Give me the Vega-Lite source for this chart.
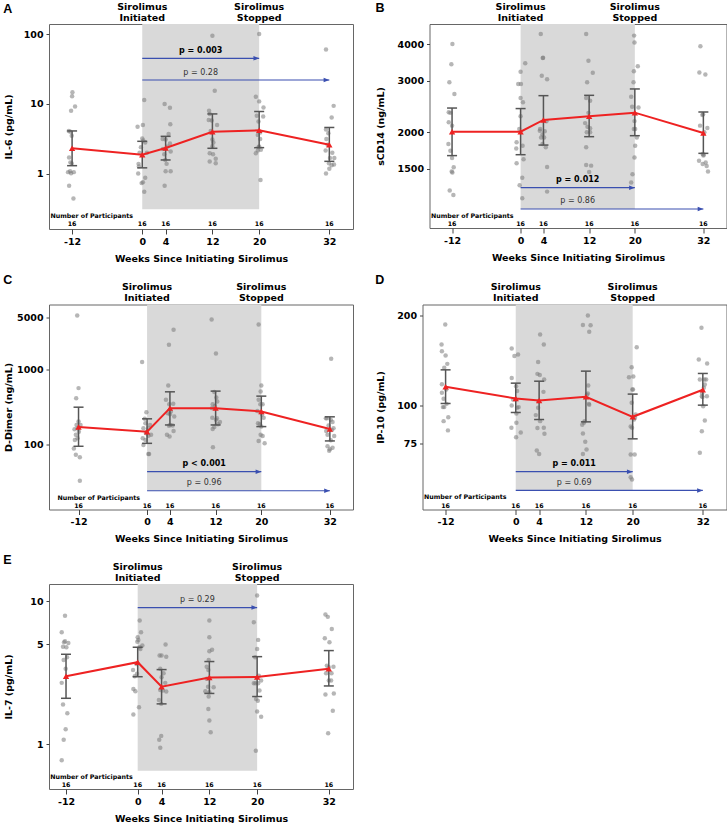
{
"$schema":"https://vega.github.io/schema/vega-lite/v6.json",
"padding":{"left":2,"top":1,"right":0,"bottom":0},
"columns":2,
"align":"none",
"spacing":{"row":9.5,"column":20.5},
"config":{
 "font":"DejaVu Sans",
 "view":{"stroke":"#666","strokeWidth":1},
 "axis":{"grid":false,"domain":false,"labelFont":"DejaVu Sans","labelFontWeight":"bold","labelFontSize":9.5,"labelColor":"#000","titleFont":"DejaVu Sans","titleFontWeight":"bold","titleFontSize":9.5,"titleColor":"#000","tickColor":"#444"},
 "axisX":{"tickSize":5,"labelPadding":2,"titlePadding":7.5,"labelExpr":"'' + datum.value"},
 "axisY":{"tickSize":3,"labelPadding":3,"titlePadding":11.5},
 "title":{"anchor":"start","frame":"bounds","font":"Liberation Sans","fontSize":12.5,"fontWeight":"bold","color":"#000"},
 "text":{"color":"#000"}
},
"datasets":{
 "shade":[{"s":0,"e":20}],
 "hdr":[{"w":0,"t":"Sirolimus\nInitiated"},{"w":20,"t":"Sirolimus\nStopped"}],
 "n16":[{"w":-12,"n":"16"},{"w":0,"n":"16"},{"w":4,"n":"16"},{"w":12,"n":"16"},{"w":20,"n":"16"},{"w":32,"n":"16"}],
 "npl":[{"t":"Number of Participants"}],
 "pA":[{"w":-11.94,"v":14.7},{"w":-12,"v":12.9},{"w":-11.49,"v":9.2},{"w":-12.17,"v":8.0},{"w":-12.57,"v":4.1},{"w":-12.29,"v":4.0},{"w":-12.06,"v":3.5},{"w":-12.51,"v":1.7},{"w":-12.29,"v":1.45},{"w":-12.06,"v":1.4},{"w":-12.69,"v":1.05},{"w":-12.34,"v":1.08},{"w":-11.71,"v":1.05},{"w":-12.17,"v":1.01},{"w":-12.51,"v":0.67},{"w":-11.77,"v":0.44},
  {"w":0.34,"v":11.4},{"w":-0.8,"v":4.7},{"w":0.11,"v":5.0},{"w":0,"v":3.2},{"w":0.17,"v":3.0},{"w":0.51,"v":2.8},{"w":0.8,"v":2.0},{"w":-0.46,"v":2.0},{"w":-0.63,"v":1.38},{"w":-0.57,"v":1.27},{"w":-0.69,"v":1.0},{"w":0.51,"v":0.87},{"w":0.11,"v":0.75},{"w":-0.11,"v":0.73},{"w":0.34,"v":0.55},{"w":-0.23,"v":2.4},
  {"w":3.83,"v":10.0},{"w":4.74,"v":8.8},{"w":4.8,"v":5.1},{"w":3.49,"v":3.15},{"w":4,"v":3.1},{"w":4.74,"v":2.7},{"w":4.34,"v":2.45},{"w":4.86,"v":2.07},{"w":3.54,"v":2.26},{"w":3.94,"v":1.57},{"w":4.17,"v":1.38},{"w":3.77,"v":1.9},{"w":4.86,"v":1.08},{"w":4,"v":1.08},{"w":3.83,"v":0.67},{"w":4.51,"v":3.7},
  {"w":12,"v":95.8},{"w":12.4,"v":15.5},{"w":11.43,"v":8.0},{"w":11.54,"v":7.2},{"w":11.37,"v":5.9},{"w":11.89,"v":5.8},{"w":12.8,"v":5.0},{"w":11.71,"v":4.1},{"w":12,"v":3.1},{"w":12.17,"v":2.8},{"w":12,"v":2.47},{"w":11.54,"v":1.96},{"w":12.11,"v":1.9},{"w":12.57,"v":1.64},{"w":11.54,"v":1.49},{"w":12.57,"v":1.41},
  {"w":20,"v":101},{"w":19.43,"v":12.7},{"w":20,"v":10.9},{"w":20.74,"v":8.9},{"w":19.6,"v":6.8},{"w":20.69,"v":6.6},{"w":19.89,"v":5.6},{"w":19.77,"v":3.6},{"w":20.17,"v":3.9},{"w":20.17,"v":3.15},{"w":19.89,"v":2.4},{"w":20,"v":2.45},{"w":20.29,"v":2.2},{"w":19.77,"v":2.14},{"w":19.43,"v":1.96},{"w":20.23,"v":0.81},
  {"w":31.43,"v":60.7},{"w":32.74,"v":9.4},{"w":32.4,"v":6.4},{"w":31.43,"v":4.3},{"w":31.83,"v":3.8},{"w":31.49,"v":3.15},{"w":31.71,"v":2.6},{"w":31.37,"v":2.14},{"w":32.51,"v":2.0},{"w":32.11,"v":1.68},{"w":32.86,"v":1.68},{"w":31.94,"v":1.41},{"w":32.8,"v":1.35},{"w":32.4,"v":1.32},{"w":32,"v":1.17},{"w":31.43,"v":1.0}],
 "mA":[{"w":-12,"m":2.31,"lo":1.30,"hi":4.1},{"w":0,"m":1.87,"lo":1.21,"hi":2.91},{"w":4,"m":2.33,"lo":1.57,"hi":3.43},{"w":12,"m":4.0,"lo":2.31,"hi":7.2},{"w":20,"m":4.19,"lo":2.36,"hi":7.8},{"w":32,"m":2.6,"lo":1.5,"hi":4.6}],
 "aA":[{"from":0,"to":20,"y":45.3,"label":"p = 0.003","sig":true},{"from":0,"to":32,"y":22.1,"label":"p = 0.28","sig":false}],
 "pB":[{"w":-11.94,"v":4000},{"w":-12.12,"v":3414},{"w":-12.47,"v":2962},{"w":-11.59,"v":2702},{"w":-12.58,"v":2340},{"w":-12.29,"v":2330},{"w":-12.58,"v":2164},{"w":-12,"v":2108},{"w":-12.64,"v":1824},{"w":-12.29,"v":1730},{"w":-12,"v":1636},{"w":-11.71,"v":1520},{"w":-12.06,"v":1470},{"w":-11.94,"v":1460},{"w":-12.41,"v":1266},{"w":-11.77,"v":1222},
  {"w":0.81,"v":3438},{"w":0,"v":3220},{"w":-0.41,"v":2924},{"w":0.06,"v":2924},{"w":0,"v":2620},{"w":0.41,"v":2532},{"w":0,"v":2270},{"w":-0.7,"v":1850},{"w":-0.76,"v":1762},{"w":0.35,"v":1800},{"w":0.52,"v":1618},{"w":-0.7,"v":1568},{"w":0.29,"v":1400},{"w":-0.17,"v":1320},{"w":0.29,"v":1192},{"w":-0.23,"v":2052},
  {"w":3.53,"v":4330},{"w":3.88,"v":3584},{"w":3.94,"v":3590},{"w":3.71,"v":3120},{"w":4.64,"v":3032},{"w":3.36,"v":2026},{"w":3.83,"v":1966},{"w":3.59,"v":1920},{"w":4.12,"v":1922},{"w":4.64,"v":1524},{"w":4.64,"v":1256},{"w":4.52,"v":2180},{"w":4.23,"v":2016},{"w":3.83,"v":1824},{"w":3.42,"v":2052},{"w":4.41,"v":1778},
  {"w":11.48,"v":4330},{"w":11.88,"v":3510},{"w":12.64,"v":3190},{"w":11.65,"v":2962},{"w":11.48,"v":2620},{"w":12.17,"v":2564},{"w":11.88,"v":2330},{"w":11.3,"v":2150},{"w":11.71,"v":2090},{"w":12.17,"v":2066},{"w":11.59,"v":2000},{"w":12.17,"v":2000},{"w":11.48,"v":1778},{"w":11.48,"v":1548},{"w":12.35,"v":1540},{"w":12,"v":1466},
  {"w":19.88,"v":4272},{"w":19.94,"v":4050},{"w":20.52,"v":3360},{"w":19.83,"v":3228},{"w":19.77,"v":2962},{"w":19.36,"v":2646},{"w":19.53,"v":2446},{"w":20.64,"v":2432},{"w":19.94,"v":2184},{"w":19.83,"v":2052},{"w":20.06,"v":2052},{"w":20.35,"v":1922},{"w":20.06,"v":1800},{"w":19.94,"v":1642},{"w":19.59,"v":1440},{"w":19.36,"v":1350},
  {"w":31.48,"v":3930},{"w":31.3,"v":3200},{"w":32.35,"v":3146},{"w":31.83,"v":2290},{"w":31.94,"v":2306},{"w":31.42,"v":2108},{"w":32.7,"v":2070},{"w":31.88,"v":1688},{"w":32.06,"v":1678},{"w":31.24,"v":1600},{"w":32.41,"v":1578},{"w":31.88,"v":1560},{"w":32.58,"v":1536},{"w":32.81,"v":1470},{"w":32,"v":1666},{"w":32.17,"v":2000}],
 "mB":[{"w":-12,"m":2010,"lo":1666,"hi":2420},{"w":0,"m":2010,"lo":1678,"hi":2410},{"w":4,"m":2204,"lo":1810,"hi":2667},{"w":12,"m":2269,"lo":1933,"hi":2674},{"w":20,"m":2334,"lo":1948,"hi":2811},{"w":32,"m":1990,"lo":1696,"hi":2346}],
 "aB":[{"from":0,"to":20,"y":1295,"label":"p = 0.012","sig":true},{"from":0,"to":32,"y":1096,"label":"p = 0.86","sig":false}],
 "pC":[{"w":-12.23,"v":5290},{"w":-12,"v":568},{"w":-12.41,"v":417},{"w":-12,"v":203},{"w":-11.65,"v":183},{"w":-12.35,"v":183},{"w":-12.7,"v":160},{"w":-12.47,"v":135},{"w":-12.64,"v":115},{"w":-12.17,"v":122},{"w":-11.94,"v":149},{"w":-12.82,"v":89},{"w":-12.47,"v":73},{"w":-11.77,"v":68},{"w":-11.77,"v":33},{"w":-12.17,"v":165},
  {"w":-0.87,"v":1270},{"w":-0.12,"v":271},{"w":-0.41,"v":221},{"w":-0.29,"v":193},{"w":0.23,"v":165},{"w":-0.64,"v":165},{"w":-0.06,"v":149},{"w":0.7,"v":135},{"w":0.23,"v":131},{"w":-0.76,"v":122},{"w":-0.64,"v":99},{"w":0.23,"v":75},{"w":0.35,"v":75},{"w":-0.29,"v":115},{"w":0.52,"v":183},{"w":-0.17,"v":142},
  {"w":4.64,"v":3430},{"w":3.83,"v":2160},{"w":3.71,"v":617},{"w":3.3,"v":397},{"w":3.88,"v":347},{"w":4.58,"v":351},{"w":3.59,"v":263},{"w":4,"v":255},{"w":4.76,"v":237},{"w":4.06,"v":183},{"w":3.83,"v":178},{"w":4.47,"v":180},{"w":3.48,"v":135},{"w":3.94,"v":128},{"w":4.64,"v":152},{"w":4.17,"v":277},
  {"w":11.3,"v":4670},{"w":12.06,"v":1650},{"w":11.77,"v":505},{"w":12.12,"v":425},{"w":12.29,"v":377},{"w":11.48,"v":347},{"w":11.36,"v":307},{"w":11.88,"v":327},{"w":11.42,"v":229},{"w":12.23,"v":225},{"w":12.06,"v":214},{"w":12.76,"v":200},{"w":12.41,"v":187},{"w":11.48,"v":162},{"w":11.77,"v":172},{"w":11.53,"v":92},
  {"w":19.53,"v":4010},{"w":20,"v":617},{"w":19.88,"v":513},{"w":19.53,"v":397},{"w":19.83,"v":347},{"w":20.23,"v":347},{"w":19.3,"v":282},{"w":20.12,"v":252},{"w":20.41,"v":229},{"w":19.42,"v":193},{"w":19.71,"v":187},{"w":20,"v":174},{"w":19.88,"v":135},{"w":20.23,"v":130},{"w":19.53,"v":112},{"w":20.58,"v":104},
  {"w":32.23,"v":1400},{"w":31.3,"v":225},{"w":31.48,"v":225},{"w":32.17,"v":214},{"w":32.47,"v":200},{"w":32.64,"v":165},{"w":31.77,"v":180},{"w":31.36,"v":152},{"w":31.59,"v":135},{"w":32.76,"v":130},{"w":32.17,"v":114},{"w":32.47,"v":91},{"w":32,"v":87},{"w":31.88,"v":83},{"w":31.59,"v":95},{"w":32.35,"v":157}],
 "mC":[{"w":-12,"m":172,"lo":95,"hi":316},{"w":0,"m":149,"lo":104,"hi":221},{"w":4,"m":307,"lo":183,"hi":507},{"w":12,"m":307,"lo":183,"hi":518},{"w":20,"m":277,"lo":174,"hi":444},{"w":32,"m":162,"lo":112,"hi":235}],
 "aC":[{"from":0,"to":20,"y":43.5,"label":"p < 0.001","sig":true},{"from":0,"to":32,"y":24.2,"label":"p = 0.96","sig":false}],
 "pD":[{"w":-12.06,"v":186.7},{"w":-12.69,"v":160.1},{"w":-12.63,"v":152.1},{"w":-12,"v":147.1},{"w":-11.71,"v":138},{"w":-12.23,"v":134},{"w":-12.63,"v":118},{"w":-12.63,"v":110.5},{"w":-12.34,"v":105.6},{"w":-12.23,"v":99},{"w":-12.46,"v":99},{"w":-11.83,"v":101.5},{"w":-11.54,"v":91.6},{"w":-12.34,"v":88.9},{"w":-11.6,"v":82.8},{"w":-11.89,"v":113.3},
  {"w":-0.69,"v":155.3},{"w":0.4,"v":148.3},{"w":-0.23,"v":146.5},{"w":-0.69,"v":123.9},{"w":0.06,"v":116.3},{"w":0.23,"v":112},{"w":0,"v":105},{"w":-0.69,"v":100.3},{"w":0.23,"v":98.5},{"w":0.51,"v":99},{"w":0.11,"v":94.2},{"w":0.11,"v":87.8},{"w":-0.74,"v":84.5},{"w":0.86,"v":81.5},{"w":0.06,"v":78.6},{"w":-0.46,"v":105},
  {"w":4.17,"v":172.9},{"w":4.8,"v":160.1},{"w":3.83,"v":140},{"w":3.71,"v":127.8},{"w":4.11,"v":126.6},{"w":4.86,"v":122.4},{"w":4.74,"v":111.3},{"w":3.89,"v":103.6},{"w":3.83,"v":98.5},{"w":3.43,"v":93.1},{"w":4.17,"v":88.9},{"w":3.71,"v":84.3},{"w":4.8,"v":84.5},{"w":4.91,"v":80.7},{"w":3.6,"v":71},{"w":4,"v":69.1},
  {"w":12.34,"v":200},{"w":11.49,"v":186},{"w":12.8,"v":185.5},{"w":12.57,"v":176.5},{"w":12.4,"v":116.9},{"w":12.17,"v":108.9},{"w":12.51,"v":101.5},{"w":11.37,"v":86.4},{"w":11.66,"v":87.8},{"w":11.49,"v":80.9},{"w":11.89,"v":75.9},{"w":12.11,"v":71.5},{"w":11.49,"v":69.1},{"w":12.34,"v":110},{"w":12.57,"v":100.9},{"w":11.77,"v":88.9},
  {"w":20.69,"v":156.8},{"w":19.83,"v":134.5},{"w":19.37,"v":124.6},{"w":20.11,"v":125.2},{"w":19.94,"v":113.3},{"w":20.06,"v":113.3},{"w":20.51,"v":93.6},{"w":20.23,"v":90},{"w":19.66,"v":85.3},{"w":19.89,"v":84.5},{"w":19.66,"v":68.8},{"w":20.34,"v":68.8},{"w":19.66,"v":57.8},{"w":19.89,"v":56.8},{"w":20.4,"v":91.2},{"w":19.83,"v":102.3},
  {"w":31.77,"v":182.2},{"w":31.31,"v":142.7},{"w":32.74,"v":138.4},{"w":31.49,"v":122.4},{"w":32.29,"v":122.4},{"w":32.57,"v":122.4},{"w":32.34,"v":117.8},{"w":32.17,"v":114.8},{"w":31.83,"v":107.7},{"w":32.69,"v":107.7},{"w":31.94,"v":106.9},{"w":32.06,"v":99.7},{"w":32.34,"v":89.3},{"w":31.83,"v":82.3},{"w":31.49,"v":69.7},{"w":31.89,"v":110}],
 "mD":[{"w":-12,"m":115.7,"lo":101.8,"hi":131.8},{"w":0,"m":105.8,"lo":95.0,"hi":119},{"w":4,"m":104.2,"lo":90.0,"hi":120.8},{"w":12,"m":107.1,"lo":88.4,"hi":130.5},{"w":20,"m":91.9,"lo":77.6,"hi":109.4},{"w":32,"m":113.1,"lo":100.5,"hi":128.2}],
 "aD":[{"from":0,"to":20,"y":60.3,"label":"p = 0.011","sig":true},{"from":0,"to":32,"y":52.2,"label":"p = 0.69","sig":false}],
 "pE":[{"w":-12.17,"v":7.9},{"w":-12.72,"v":6.06},{"w":-12.17,"v":5.24},{"w":-11.61,"v":5.1},{"w":-12.5,"v":4.8},{"w":-11.94,"v":4.76},{"w":-12.39,"v":3.88},{"w":-12.06,"v":3.36},{"w":-12.72,"v":2.68},{"w":-12.5,"v":1.89},{"w":-11.78,"v":1.64},{"w":-12.06,"v":1.27},{"w":-12.39,"v":1.07},{"w":-12.72,"v":0.77},{"w":-12.33,"v":5.16},{"w":-11.83,"v":4.05},
  {"w":0.33,"v":7.32},{"w":0.56,"v":6.06},{"w":0,"v":5.59},{"w":0.11,"v":5.36},{"w":0.78,"v":4.89},{"w":0.33,"v":4.76},{"w":-0.06,"v":5.2},{"w":-0.78,"v":3.3},{"w":-0.5,"v":2.98},{"w":-0.11,"v":3.1},{"w":-0.72,"v":2.43},{"w":-0.39,"v":2.34},{"w":0.22,"v":1.81},{"w":-0.72,"v":1.61},{"w":0.45,"v":4.63},{"w":-0.22,"v":3.63},
  {"w":4.67,"v":4.98},{"w":3.67,"v":4.16},{"w":4,"v":4.16},{"w":4.78,"v":4.09},{"w":3.78,"v":3.36},{"w":4,"v":2.93},{"w":4.61,"v":2.68},{"w":3.78,"v":2.39},{"w":4.22,"v":2.37},{"w":4.78,"v":2.33},{"w":3.94,"v":1.91},{"w":3.94,"v":1.14},{"w":3.61,"v":1.07},{"w":3.78,"v":0.94},{"w":4.33,"v":3.13},{"w":3.55,"v":2.03},
  {"w":12,"v":7.32},{"w":12,"v":5.59},{"w":12.45,"v":4.58},{"w":12,"v":4.46},{"w":11.89,"v":3.88},{"w":11.55,"v":3.48},{"w":11.83,"v":3.3},{"w":11.55,"v":2.86},{"w":11.78,"v":2.52},{"w":12.72,"v":2.5},{"w":11.33,"v":2.34},{"w":12,"v":2.3},{"w":11.89,"v":2.15},{"w":11.83,"v":1.76},{"w":12,"v":1.46},{"w":12.22,"v":1.21},
  {"w":20,"v":10.96},{"w":19.44,"v":7.12},{"w":20.17,"v":5.36},{"w":20,"v":4.63},{"w":19.67,"v":4.05},{"w":20.67,"v":2.78},{"w":19.72,"v":2.66},{"w":20.17,"v":2.66},{"w":19.44,"v":2.66},{"w":20.39,"v":2.37},{"w":19.83,"v":2.07},{"w":20.11,"v":2.01},{"w":20,"v":1.69},{"w":20.67,"v":1.55},{"w":19.78,"v":0.898},{"w":20.28,"v":3.01},
  {"w":31.44,"v":8.06},{"w":31.83,"v":7.77},{"w":32.5,"v":6.4},{"w":31.33,"v":5.5},{"w":32.11,"v":5.16},{"w":31.67,"v":3.54},{"w":32.78,"v":3.48},{"w":32,"v":3.45},{"w":31.55,"v":3.13},{"w":32.45,"v":3.13},{"w":32,"v":2.78},{"w":32.39,"v":2.78},{"w":31.44,"v":2.22},{"w":32.84,"v":2.26},{"w":32.67,"v":1.71},{"w":31.89,"v":1.19}],
 "mE":[{"w":-12,"m":2.98,"lo":2.09,"hi":4.25},{"w":0,"m":3.74,"lo":2.96,"hi":4.76},{"w":4,"m":2.52,"lo":1.91,"hi":3.32},{"w":12,"m":2.92,"lo":2.26,"hi":3.78},{"w":20,"m":2.95,"lo":2.15,"hi":4.09},{"w":32,"m":3.37,"lo":2.55,"hi":4.51}],
 "aE":[{"from":0,"to":20,"y":9.03,"label":"p = 0.29","sig":false}]
},
"concat":[
  {"width":304,"height":205,"title":{"text":"A","offset":-13},
   "layer":[
    {"data":{"name":"shade"},"mark":{"type":"rect","color":"#d9d9d9"},"encoding":{"x":{"field":"s","type":"quantitative","scale":{"domain":[-15.95,36.05],"nice":false,"zero":false},"axis":{"values":[-12,0,4,12,20,32],"title":"Weeks Since Initiating Sirolimus"}},"x2":{"field":"e"},"y":{"datum":0.307,"type":"quantitative","scale":{"type":"log","domain":[0.16,141],"nice":false},"axis":{"values":[1,10,100],"format":"d","title":"IL-6 (pg/mL)","titlePadding":10}},"y2":{"datum":141}}},
    {"data":{"name":"pA"},"mark":{"type":"circle","color":"#7a7a7a","opacity":0.55,"size":20},"encoding":{"x":{"field":"w","type":"quantitative"},"y":{"field":"v","type":"quantitative"}}},
    {"data":{"name":"mA"},"mark":{"type":"rule","color":"#555","strokeWidth":1.5},"encoding":{"x":{"field":"w","type":"quantitative"},"y":{"field":"lo","type":"quantitative"},"y2":{"field":"hi"}}},
    {"data":{"name":"mA"},"mark":{"type":"tick","orient":"horizontal","color":"#555","size":10,"thickness":1.5,"opacity":1},"encoding":{"x":{"field":"w","type":"quantitative"},"y":{"field":"lo","type":"quantitative"}}},
    {"data":{"name":"mA"},"mark":{"type":"tick","orient":"horizontal","color":"#555","size":10,"thickness":1.5,"opacity":1},"encoding":{"x":{"field":"w","type":"quantitative"},"y":{"field":"hi","type":"quantitative"}}},
    {"data":{"name":"mA"},"mark":{"type":"line","color":"#ee2222","strokeWidth":2},"encoding":{"x":{"field":"w","type":"quantitative"},"y":{"field":"m","type":"quantitative"}}},
    {"data":{"name":"mA"},"mark":{"type":"point","shape":"triangle-up","filled":true,"color":"#ee2222","size":40,"opacity":1},"encoding":{"x":{"field":"w","type":"quantitative"},"y":{"field":"m","type":"quantitative"}}},
    {"data":{"name":"aA"},"mark":{"type":"rule","color":"#3a4fb0","strokeWidth":1.2},"encoding":{"x":{"field":"from","type":"quantitative"},"x2":{"field":"to"},"y":{"field":"y","type":"quantitative"}}},
    {"data":{"name":"aA"},"mark":{"type":"point","shape":"M0,0L-1,-0.4L-1,0.4Z","filled":true,"color":"#3a4fb0","size":130,"opacity":1},"encoding":{"x":{"field":"to","type":"quantitative"},"y":{"field":"y","type":"quantitative"}}},
    {"data":{"name":"aA"},"transform":[{"filter":"datum.sig"}],"mark":{"type":"text","fontWeight":"bold","fontSize":8,"dy":-7.5},"encoding":{"x":{"datum":10},"y":{"field":"y","type":"quantitative"},"text":{"field":"label"}}},
    {"data":{"name":"aA"},"transform":[{"filter":"!datum.sig"}],"mark":{"type":"text","fontSize":8,"dy":-7.5,"color":"#333"},"encoding":{"x":{"datum":10},"y":{"field":"y","type":"quantitative"},"text":{"field":"label"}}},
    {"data":{"name":"hdr"},"mark":{"type":"text","fontWeight":"bold","fontSize":9.5,"lineBreak":"\n","lineHeight":10.7,"baseline":"middle"},"encoding":{"x":{"field":"w","type":"quantitative"},"y":{"datum":247},"text":{"field":"t"}}},
    {"data":{"name":"npl"},"mark":{"type":"text","fontWeight":"bold","fontSize":6.3,"align":"left","baseline":"middle"},"encoding":{"x":{"datum":-15.7},"y":{"datum":0.249},"text":{"field":"t"}}},
    {"data":{"name":"n16"},"mark":{"type":"text","fontWeight":"bold","fontSize":6.3,"baseline":"middle"},"encoding":{"x":{"field":"w","type":"quantitative"},"y":{"datum":0.19},"text":{"field":"n"}}}
   ]},
  {"width":297,"height":204,"title":{"text":"B","offset":-13},
   "layer":[
    {"data":{"name":"shade"},"mark":{"type":"rect","color":"#d9d9d9"},"encoding":{"x":{"field":"s","type":"quantitative","scale":{"domain":[-15.95,36.05],"nice":false,"zero":false},"axis":{"values":[-12,0,4,12,20,32],"title":"Weeks Since Initiating Sirolimus"}},"x2":{"field":"e"},"y":{"datum":1096,"type":"quantitative","scale":{"type":"log","domain":[944,4680],"nice":false},"axis":{"values":[1500,2000,3000,4000],"format":"d","title":"sCD14 (ng/mL)"}},"y2":{"datum":4680}}},
    {"data":{"name":"pB"},"mark":{"type":"circle","color":"#7a7a7a","opacity":0.55,"size":20},"encoding":{"x":{"field":"w","type":"quantitative"},"y":{"field":"v","type":"quantitative"}}},
    {"data":{"name":"mB"},"mark":{"type":"rule","color":"#555","strokeWidth":1.5},"encoding":{"x":{"field":"w","type":"quantitative"},"y":{"field":"lo","type":"quantitative"},"y2":{"field":"hi"}}},
    {"data":{"name":"mB"},"mark":{"type":"tick","orient":"horizontal","color":"#555","size":10,"thickness":1.5,"opacity":1},"encoding":{"x":{"field":"w","type":"quantitative"},"y":{"field":"lo","type":"quantitative"}}},
    {"data":{"name":"mB"},"mark":{"type":"tick","orient":"horizontal","color":"#555","size":10,"thickness":1.5,"opacity":1},"encoding":{"x":{"field":"w","type":"quantitative"},"y":{"field":"hi","type":"quantitative"}}},
    {"data":{"name":"mB"},"mark":{"type":"line","color":"#ee2222","strokeWidth":2},"encoding":{"x":{"field":"w","type":"quantitative"},"y":{"field":"m","type":"quantitative"}}},
    {"data":{"name":"mB"},"mark":{"type":"point","shape":"triangle-up","filled":true,"color":"#ee2222","size":40,"opacity":1},"encoding":{"x":{"field":"w","type":"quantitative"},"y":{"field":"m","type":"quantitative"}}},
    {"data":{"name":"aB"},"mark":{"type":"rule","color":"#3a4fb0","strokeWidth":1.2},"encoding":{"x":{"field":"from","type":"quantitative"},"x2":{"field":"to"},"y":{"field":"y","type":"quantitative"}}},
    {"data":{"name":"aB"},"mark":{"type":"point","shape":"M0,0L-1,-0.4L-1,0.4Z","filled":true,"color":"#3a4fb0","size":130,"opacity":1},"encoding":{"x":{"field":"to","type":"quantitative"},"y":{"field":"y","type":"quantitative"}}},
    {"data":{"name":"aB"},"transform":[{"filter":"datum.sig"}],"mark":{"type":"text","fontWeight":"bold","fontSize":8,"dy":-7.5},"encoding":{"x":{"datum":10},"y":{"field":"y","type":"quantitative"},"text":{"field":"label"}}},
    {"data":{"name":"aB"},"transform":[{"filter":"!datum.sig"}],"mark":{"type":"text","fontSize":8,"dy":-7.5,"color":"#333"},"encoding":{"x":{"datum":10},"y":{"field":"y","type":"quantitative"},"text":{"field":"label"}}},
    {"data":{"name":"hdr"},"mark":{"type":"text","fontWeight":"bold","fontSize":9.5,"lineBreak":"\n","lineHeight":10.7,"baseline":"middle"},"encoding":{"x":{"field":"w","type":"quantitative"},"y":{"datum":5348},"text":{"field":"t"}}},
    {"data":{"name":"npl"},"mark":{"type":"text","fontWeight":"bold","fontSize":6.3,"align":"left","baseline":"middle"},"encoding":{"x":{"datum":-15.7},"y":{"datum":1040},"text":{"field":"t"}}},
    {"data":{"name":"n16"},"mark":{"type":"text","fontWeight":"bold","fontSize":6.3,"baseline":"middle"},"encoding":{"x":{"field":"w","type":"quantitative"},"y":{"datum":974},"text":{"field":"n"}}}
   ]},
  {"width":304,"height":205,"title":{"text":"C","offset":-4},
   "layer":[
    {"data":{"name":"shade"},"mark":{"type":"rect","color":"#d9d9d9"},"encoding":{"x":{"field":"s","type":"quantitative","scale":{"domain":[-17.17,36.05],"nice":false,"zero":false},"axis":{"values":[-12,0,4,12,20,32],"title":"Weeks Since Initiating Sirolimus"}},"x2":{"field":"e"},"y":{"datum":24.2,"type":"quantitative","scale":{"type":"log","domain":[13.6,7430],"nice":false},"axis":{"values":[100,1000,5000],"format":"d","title":"D-Dimer (ng/mL)","titlePadding":3.4}},"y2":{"datum":7430}}},
    {"data":{"name":"pC"},"mark":{"type":"circle","color":"#7a7a7a","opacity":0.55,"size":20},"encoding":{"x":{"field":"w","type":"quantitative"},"y":{"field":"v","type":"quantitative"}}},
    {"data":{"name":"mC"},"mark":{"type":"rule","color":"#555","strokeWidth":1.5},"encoding":{"x":{"field":"w","type":"quantitative"},"y":{"field":"lo","type":"quantitative"},"y2":{"field":"hi"}}},
    {"data":{"name":"mC"},"mark":{"type":"tick","orient":"horizontal","color":"#555","size":10,"thickness":1.5,"opacity":1},"encoding":{"x":{"field":"w","type":"quantitative"},"y":{"field":"lo","type":"quantitative"}}},
    {"data":{"name":"mC"},"mark":{"type":"tick","orient":"horizontal","color":"#555","size":10,"thickness":1.5,"opacity":1},"encoding":{"x":{"field":"w","type":"quantitative"},"y":{"field":"hi","type":"quantitative"}}},
    {"data":{"name":"mC"},"mark":{"type":"line","color":"#ee2222","strokeWidth":2},"encoding":{"x":{"field":"w","type":"quantitative"},"y":{"field":"m","type":"quantitative"}}},
    {"data":{"name":"mC"},"mark":{"type":"point","shape":"triangle-up","filled":true,"color":"#ee2222","size":40,"opacity":1},"encoding":{"x":{"field":"w","type":"quantitative"},"y":{"field":"m","type":"quantitative"}}},
    {"data":{"name":"aC"},"mark":{"type":"rule","color":"#3a4fb0","strokeWidth":1.2},"encoding":{"x":{"field":"from","type":"quantitative"},"x2":{"field":"to"},"y":{"field":"y","type":"quantitative"}}},
    {"data":{"name":"aC"},"mark":{"type":"point","shape":"M0,0L-1,-0.4L-1,0.4Z","filled":true,"color":"#3a4fb0","size":130,"opacity":1},"encoding":{"x":{"field":"to","type":"quantitative"},"y":{"field":"y","type":"quantitative"}}},
    {"data":{"name":"aC"},"transform":[{"filter":"datum.sig"}],"mark":{"type":"text","fontWeight":"bold","fontSize":8,"dy":-7.5},"encoding":{"x":{"datum":10},"y":{"field":"y","type":"quantitative"},"text":{"field":"label"}}},
    {"data":{"name":"aC"},"transform":[{"filter":"!datum.sig"}],"mark":{"type":"text","fontSize":8,"dy":-7.5,"color":"#333"},"encoding":{"x":{"datum":10},"y":{"field":"y","type":"quantitative"},"text":{"field":"label"}}},
    {"data":{"name":"hdr"},"mark":{"type":"text","fontWeight":"bold","fontSize":9.5,"lineBreak":"\n","lineHeight":10.7,"baseline":"middle"},"encoding":{"x":{"field":"w","type":"quantitative"},"y":{"datum":12553},"text":{"field":"t"}}},
    {"data":{"name":"npl"},"mark":{"type":"text","fontWeight":"bold","fontSize":6.3,"align":"left","baseline":"middle"},"encoding":{"x":{"datum":-15.7},"y":{"datum":19.5},"text":{"field":"t"}}},
    {"data":{"name":"n16"},"mark":{"type":"text","fontWeight":"bold","fontSize":6.3,"baseline":"middle"},"encoding":{"x":{"field":"w","type":"quantitative"},"y":{"datum":15.2},"text":{"field":"n"}}}
   ]},
  {"width":304,"height":205,"title":{"text":"D","offset":-4},
   "layer":[
    {"data":{"name":"shade"},"mark":{"type":"rect","color":"#d9d9d9"},"encoding":{"x":{"field":"s","type":"quantitative","scale":{"domain":[-15.95,36.05],"nice":false,"zero":false},"axis":{"values":[-12,0,4,12,20,32],"title":"Weeks Since Initiating Sirolimus"}},"x2":{"field":"e"},"y":{"datum":52.2,"type":"quantitative","scale":{"type":"log","domain":[45.1,217.7],"nice":false},"axis":{"values":[75,100,200],"format":"d","title":"IP-10 (pg/mL)"}},"y2":{"datum":217.7}}},
    {"data":{"name":"pD"},"mark":{"type":"circle","color":"#7a7a7a","opacity":0.55,"size":20},"encoding":{"x":{"field":"w","type":"quantitative"},"y":{"field":"v","type":"quantitative"}}},
    {"data":{"name":"mD"},"mark":{"type":"rule","color":"#555","strokeWidth":1.5},"encoding":{"x":{"field":"w","type":"quantitative"},"y":{"field":"lo","type":"quantitative"},"y2":{"field":"hi"}}},
    {"data":{"name":"mD"},"mark":{"type":"tick","orient":"horizontal","color":"#555","size":10,"thickness":1.5,"opacity":1},"encoding":{"x":{"field":"w","type":"quantitative"},"y":{"field":"lo","type":"quantitative"}}},
    {"data":{"name":"mD"},"mark":{"type":"tick","orient":"horizontal","color":"#555","size":10,"thickness":1.5,"opacity":1},"encoding":{"x":{"field":"w","type":"quantitative"},"y":{"field":"hi","type":"quantitative"}}},
    {"data":{"name":"mD"},"mark":{"type":"line","color":"#ee2222","strokeWidth":2},"encoding":{"x":{"field":"w","type":"quantitative"},"y":{"field":"m","type":"quantitative"}}},
    {"data":{"name":"mD"},"mark":{"type":"point","shape":"triangle-up","filled":true,"color":"#ee2222","size":40,"opacity":1},"encoding":{"x":{"field":"w","type":"quantitative"},"y":{"field":"m","type":"quantitative"}}},
    {"data":{"name":"aD"},"mark":{"type":"rule","color":"#3a4fb0","strokeWidth":1.2},"encoding":{"x":{"field":"from","type":"quantitative"},"x2":{"field":"to"},"y":{"field":"y","type":"quantitative"}}},
    {"data":{"name":"aD"},"mark":{"type":"point","shape":"M0,0L-1,-0.4L-1,0.4Z","filled":true,"color":"#3a4fb0","size":130,"opacity":1},"encoding":{"x":{"field":"to","type":"quantitative"},"y":{"field":"y","type":"quantitative"}}},
    {"data":{"name":"aD"},"transform":[{"filter":"datum.sig"}],"mark":{"type":"text","fontWeight":"bold","fontSize":8,"dy":-7.5},"encoding":{"x":{"datum":10},"y":{"field":"y","type":"quantitative"},"text":{"field":"label"}}},
    {"data":{"name":"aD"},"transform":[{"filter":"!datum.sig"}],"mark":{"type":"text","fontSize":8,"dy":-7.5,"color":"#333"},"encoding":{"x":{"datum":10},"y":{"field":"y","type":"quantitative"},"text":{"field":"label"}}},
    {"data":{"name":"hdr"},"mark":{"type":"text","fontWeight":"bold","fontSize":9.5,"lineBreak":"\n","lineHeight":10.7,"baseline":"middle"},"encoding":{"x":{"field":"w","type":"quantitative"},"y":{"datum":248.1},"text":{"field":"t"}}},
    {"data":{"name":"npl"},"mark":{"type":"text","fontWeight":"bold","fontSize":6.3,"align":"left","baseline":"middle"},"encoding":{"x":{"datum":-15.7},"y":{"datum":49.6},"text":{"field":"t"}}},
    {"data":{"name":"n16"},"mark":{"type":"text","fontWeight":"bold","fontSize":6.3,"baseline":"middle"},"encoding":{"x":{"field":"w","type":"quantitative"},"y":{"datum":46.5},"text":{"field":"n"}}}
   ]},
  {"width":304,"height":205,"title":{"text":"E","offset":-4},
   "layer":[
    {"data":{"name":"shade"},"mark":{"type":"rect","color":"#d9d9d9"},"encoding":{"x":{"field":"s","type":"quantitative","scale":{"domain":[-14.85,36.05],"nice":false,"zero":false},"axis":{"values":[-12,0,4,12,20,32],"title":"Weeks Since Initiating Sirolimus"}},"x2":{"field":"e"},"y":{"datum":0.65,"type":"quantitative","scale":{"type":"log","domain":[0.484,13.2],"nice":false},"axis":{"values":[1,5,10],"format":"d","title":"IL-7 (pg/mL)","titlePadding":16.5}},"y2":{"datum":13.2}}},
    {"data":{"name":"pE"},"mark":{"type":"circle","color":"#7a7a7a","opacity":0.55,"size":20},"encoding":{"x":{"field":"w","type":"quantitative"},"y":{"field":"v","type":"quantitative"}}},
    {"data":{"name":"mE"},"mark":{"type":"rule","color":"#555","strokeWidth":1.5},"encoding":{"x":{"field":"w","type":"quantitative"},"y":{"field":"lo","type":"quantitative"},"y2":{"field":"hi"}}},
    {"data":{"name":"mE"},"mark":{"type":"tick","orient":"horizontal","color":"#555","size":10,"thickness":1.5,"opacity":1},"encoding":{"x":{"field":"w","type":"quantitative"},"y":{"field":"lo","type":"quantitative"}}},
    {"data":{"name":"mE"},"mark":{"type":"tick","orient":"horizontal","color":"#555","size":10,"thickness":1.5,"opacity":1},"encoding":{"x":{"field":"w","type":"quantitative"},"y":{"field":"hi","type":"quantitative"}}},
    {"data":{"name":"mE"},"mark":{"type":"line","color":"#ee2222","strokeWidth":2},"encoding":{"x":{"field":"w","type":"quantitative"},"y":{"field":"m","type":"quantitative"}}},
    {"data":{"name":"mE"},"mark":{"type":"point","shape":"triangle-up","filled":true,"color":"#ee2222","size":40,"opacity":1},"encoding":{"x":{"field":"w","type":"quantitative"},"y":{"field":"m","type":"quantitative"}}},
    {"data":{"name":"aE"},"mark":{"type":"rule","color":"#3a4fb0","strokeWidth":1.2},"encoding":{"x":{"field":"from","type":"quantitative"},"x2":{"field":"to"},"y":{"field":"y","type":"quantitative"}}},
    {"data":{"name":"aE"},"mark":{"type":"point","shape":"M0,0L-1,-0.4L-1,0.4Z","filled":true,"color":"#3a4fb0","size":130,"opacity":1},"encoding":{"x":{"field":"to","type":"quantitative"},"y":{"field":"y","type":"quantitative"}}},
    {"data":{"name":"aE"},"mark":{"type":"text","fontSize":8,"dy":-7.5,"color":"#333"},"encoding":{"x":{"datum":10},"y":{"field":"y","type":"quantitative"},"text":{"field":"label"}}},
    {"data":{"name":"hdr"},"mark":{"type":"text","fontWeight":"bold","fontSize":9.5,"lineBreak":"\n","lineHeight":10.7,"baseline":"middle"},"encoding":{"x":{"field":"w","type":"quantitative"},"y":{"datum":17.36},"text":{"field":"t"}}},
    {"data":{"name":"npl"},"mark":{"type":"text","fontWeight":"bold","fontSize":6.3,"align":"left","baseline":"middle"},"encoding":{"x":{"datum":-14.65},"y":{"datum":0.584},"text":{"field":"t"}}},
    {"data":{"name":"n16"},"mark":{"type":"text","fontWeight":"bold","fontSize":6.3,"baseline":"middle"},"encoding":{"x":{"field":"w","type":"quantitative"},"y":{"datum":0.516},"text":{"field":"n"}}}
   ]}
]
}
